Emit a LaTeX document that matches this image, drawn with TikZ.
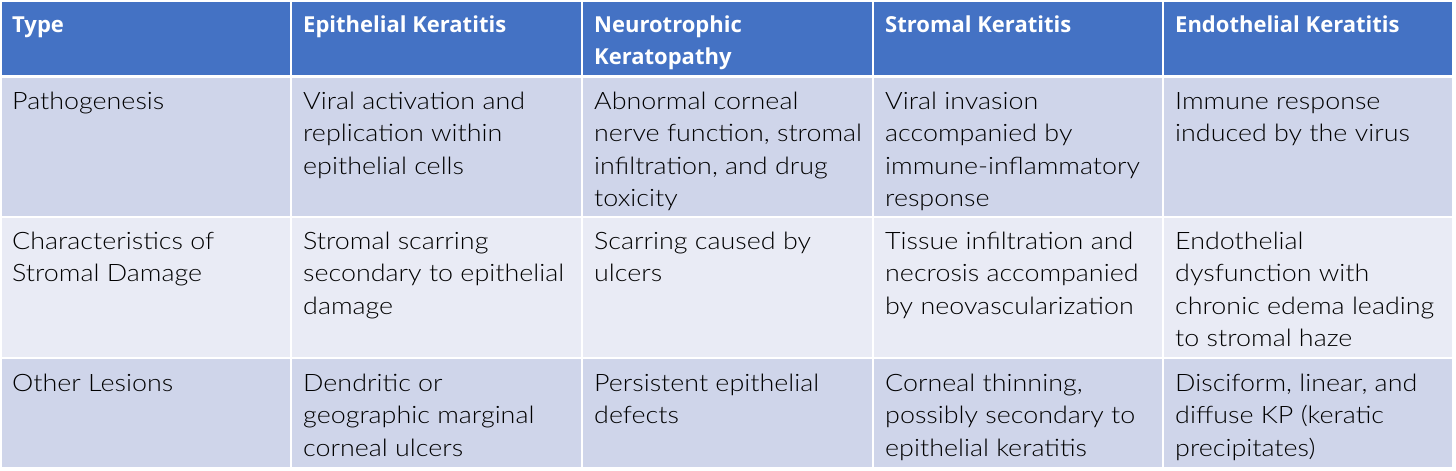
\documentclass[tikz,border=0pt]{standalone}
\usepackage{fontspec}
\setmainfont{Lato}[UprightFont=* Light, BoldFont=* Bold, FakeStretch=1.12]
\newfontfamily\headfont{Open Sans}[UprightFont=* Bold]
\definecolor{headblue}{HTML}{4472C4}
\definecolor{rowA}{HTML}{CFD5EA}
\definecolor{rowB}{HTML}{E9EBF5}
\begin{document}
\begin{tikzpicture}[x=1pt,y=-1pt,
  cell/.style={anchor=north west,inner sep=0pt,align=left,font=\fontsize{24}{32.5}\selectfont,text=black},
  head/.style={anchor=north west,inner sep=0pt,align=left,font=\headfont\fontsize{22}{32}\selectfont,text=white},
  grid/.style={white,line width=2pt}]
\useasboundingbox (0,0) rectangle (1456,471);
\fill[white] (0,0) rectangle (1456,471);
% backgrounds
\fill[headblue] (0,0) rectangle (1453,76);
\fill[rowA] (0,76) rectangle (1453,217);
\fill[rowB] (0,217) rectangle (1453,358);
\fill[rowA] (0,358) rectangle (1453,468);
% grid lines
\draw[white,line width=3pt] (0,76) -- (1453,76);
\draw[grid] (0,217) -- (1453,217);
\draw[grid] (0,358) -- (1453,358);
\foreach \x in {291,582,873,1163} \draw[grid] (\x,0) -- (\x,468);
\draw[grid] (1,0) -- (1,468);
\draw[grid] (0,1) -- (1453,1);
\draw[grid] (1453,0) -- (1453,468);
\draw[grid] (0,468) -- (1453,468);
% header
\def\hs{\rule{0pt}{17pt}}
\def\cs{\rule{0pt}{18pt}}
\node[head] (h1) at (12,15) {\hs Type};
\node[head] (h2) at (303,15) {\hs Epithelial Keratitis};
\node[head] (h3) at (594,15) {\hs Neurotrophic\\Keratopathy};
\node[head] (h4) at (885,15) {\hs Stromal Keratitis};
\node[head] (h5) at (1175,15) {\hs Endothelial Keratitis};
% row 1
\node[cell] (a1) at (12,91) {\cs Pathogenesis};
\node[cell] (a2) at (303,91) {\cs Viral activation and\\replication within\\epithelial cells};
\node[cell] (a3) at (594,91) {\cs Abnormal corneal\\nerve function, stromal\\infiltration, and drug\\toxicity};
\node[cell] (a4) at (885,91) {\cs Viral invasion\\accompanied by\\immune-inflammatory\\response};
\node[cell] (a5) at (1175,91) {\cs Immune response\\induced by the virus};
% row 2
\node[cell] (b1) at (12,231) {\cs Characteristics of\\Stromal Damage};
\node[cell] (b2) at (303,231) {\cs Stromal scarring\\secondary to epithelial\\damage};
\node[cell] (b3) at (594,231) {\cs Scarring caused by\\ulcers};
\node[cell] (b4) at (885,231) {\cs Tissue infiltration and\\necrosis accompanied\\by neovascularization};
\node[cell] (b5) at (1175,231) {\cs Endothelial\\dysfunction with\\chronic edema leading\\to stromal haze};
% row 3
\node[cell] (c1) at (12,373) {\cs Other Lesions};
\node[cell] (c2) at (303,373) {\cs Dendritic or\\geographic marginal\\corneal ulcers};
\node[cell] (c3) at (594,373) {\cs Persistent epithelial\\defects};
\node[cell] (c4) at (885,373) {\cs Corneal thinning,\\possibly secondary to\\epithelial keratitis};
\node[cell] (c5) at (1175,373) {\cs Disciform, linear, and\\diffuse KP (keratic\\precipitates)};
\end{tikzpicture}
\end{document}
